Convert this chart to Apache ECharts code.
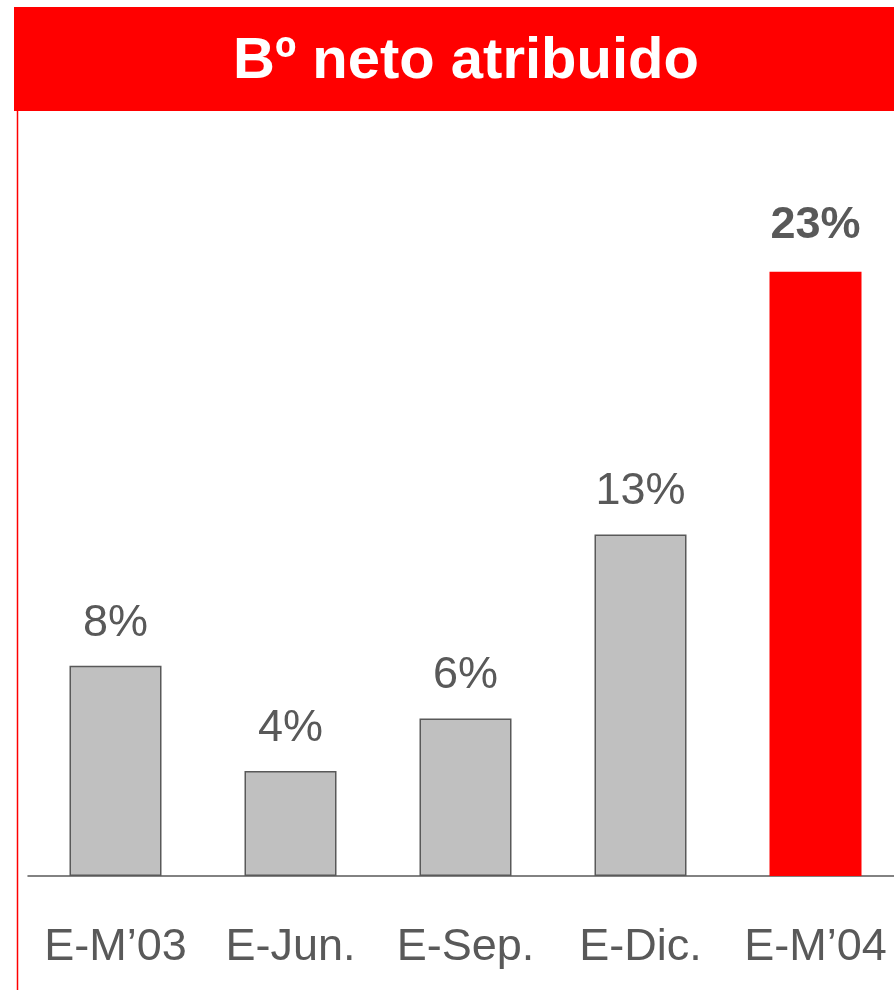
<!DOCTYPE html>
<html>
<head>
<meta charset="utf-8">
<script src="https://cdn.jsdelivr.net/npm/echarts@6/dist/echarts.min.js"></script>
<style>
  html, body { margin: 0; padding: 0; background: #fff; }
  #chart { width: 894px; height: 990px; }
</style>
</head>
<body>
<div id="chart"></div>
<script>
const categories = ['E-M\u201903', 'E-Jun.', 'E-Sep.', 'E-Dic.', 'E-M\u201904'];
const values = [8, 4, 6, 13, 23];
const highlightIndex = 4;

const chart = echarts.init(document.getElementById('chart'));

const barData = values.map((v, i) => {
    if (i === highlightIndex) {
        return {
            value: v,
            itemStyle: { color: '#FF0000', borderWidth: 0 },
            label: { fontWeight: 'bold', distance: 24 }
        };
    }
    return v;
});

chart.setOption({
    animation: false,
    backgroundColor: '#ffffff',
    grid: { left: 28, width: 875, top: 88, bottom: 114, outerBoundsMode: 'none' },
    xAxis: {
        type: 'category',
        data: categories,
        axisLine: { lineStyle: { color: '#595959', width: 1.5 } },
        axisTick: { show: false },
        axisLabel: {
            interval: 0,
            hideOverlap: false,
            color: '#595959',
            fontFamily: 'Liberation Sans, Arial, sans-serif',
            fontSize: 45,
            margin: 49
        }
    },
    yAxis: {
        type: 'value',
        min: 0,
        max: 30,
        show: false,
        splitLine: { show: false }
    },
    series: [{
        type: 'bar',
        data: barData,
        barWidth: 92,
        itemStyle: { color: '#C0C0C0', borderColor: '#595959', borderWidth: 1.5 },
        label: {
            show: true,
            position: 'top',
            distance: 20,
            formatter: '{c}%',
            color: '#595959',
            fontFamily: 'Liberation Sans, Arial, sans-serif',
            fontSize: 45
        }
    }],
    graphic: [
        {
            type: 'rect',
            shape: { x: 14, y: 7, width: 880, height: 104 },
            style: { fill: '#FF0000' }
        },
        {
            type: 'line',
            shape: { x1: 17.5, y1: 111, x2: 17.5, y2: 990 },
            style: { stroke: '#FF0000', lineWidth: 1.5 }
        },
        {
            type: 'text',
            x: 466,
            y: 62,
            style: {
                text: 'B\u00BA neto atribuido',
                fill: '#ffffff',
                font: 'bold 58px "Liberation Sans", Arial, sans-serif',
                textAlign: 'center',
                textVerticalAlign: 'middle'
            }
        }
    ]
});
</script>
</body>
</html>
